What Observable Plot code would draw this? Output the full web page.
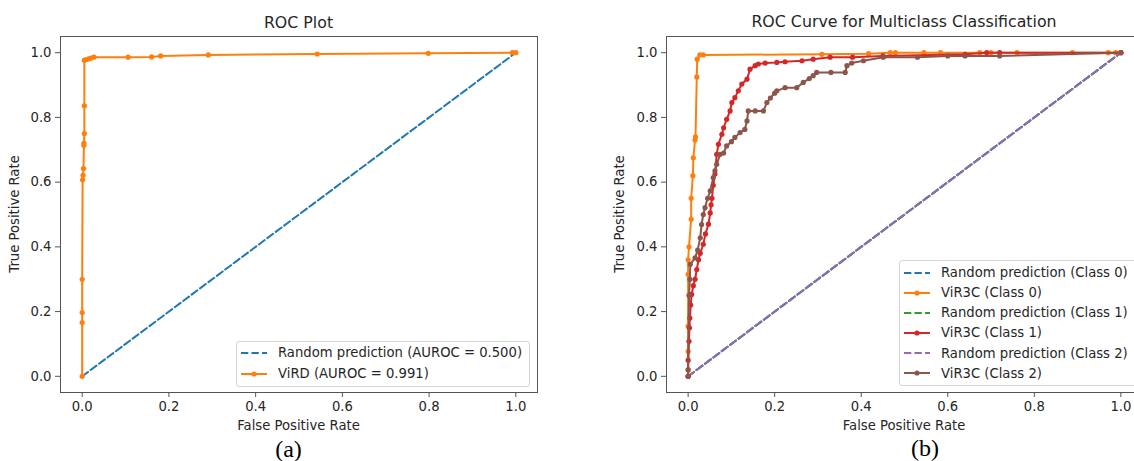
<!DOCTYPE html>
<html><head><meta charset="utf-8">
<script src="https://cdn.jsdelivr.net/npm/d3@7"></script>
<script src="https://cdn.jsdelivr.net/npm/@observablehq/plot@0.6"></script>
<style>
html,body{margin:0;padding:0;background:#fff;overflow:hidden}
#root{position:relative;width:1134px;height:461px;overflow:hidden;font-family:"DejaVu Sans",sans-serif;color:#262626;background:#fff}
.abs{position:absolute;white-space:nowrap;transform:translate(-50%,-50%);line-height:1}
.title{font-size:15.8px}
.lab{font-size:13.2px}
.rot{transform:translate(-50%,-50%) rotate(-90deg)}
.cap{font-family:"Liberation Serif",serif;font-size:24px;color:#000}
.legend{position:absolute;background:rgba(255,255,255,0.85);border:1px solid #d4d4d4;border-radius:3px;font-size:13.2px;box-sizing:border-box;white-space:nowrap}
.row{display:flex;align-items:center;height:20.1px;padding-left:4px}
.row svg{margin-right:11px;flex:none}
.plot{position:absolute;top:0}
</style></head><body><div id="root"></div>
<script>
// ---------- data ----------
const xTicks = [0, 0.2, 0.4, 0.6, 0.8, 1.0];
const yTicks = [0, 0.2, 0.4, 0.6, 0.8, 1.0];
const randomX = [0, 1];
const randomY = [0, 1];

// Panel (a): ViRD
const virdFPR = [0, 0, 0, 0, 0.001, 0.002, 0.003, 0.004, 0.004, 0.005, 0.005, 0.005, 0.01, 0.015, 0.02, 0.027, 0.106, 0.16, 0.181, 0.291, 0.542, 0.798, 0.992, 1.0];
const virdTPR = [0, 0.166, 0.197, 0.30, 0.607, 0.621, 0.642, 0.714, 0.72, 0.75, 0.836, 0.977, 0.979, 0.981, 0.983, 0.986, 0.986, 0.987, 0.99, 0.993, 0.996, 0.998, 1.0, 1.0];

// Panel (b): ViR3C classes
const c0FPR = [0, 0, 0, 0, 0, 0, 0.002, 0.007, 0.007, 0.011, 0.012, 0.016, 0.017, 0.02, 0.021, 0.027, 0.035, 0.309, 0.417, 0.467, 0.479, 0.545, 0.583, 0.674, 0.70, 0.76, 0.888, 0.971, 0.988, 1.0];
const c0TPR = [0, 0.02, 0.077, 0.155, 0.315, 0.36, 0.40, 0.485, 0.55, 0.62, 0.675, 0.73, 0.74, 0.925, 0.98, 0.993, 0.993, 0.995, 0.997, 1.0, 1.0, 1.0, 1.0, 1.0, 1.0, 1.0, 1.0, 1.0, 1.0, 1.0];

const c1FPR = [0, 0, 0.002, 0.003, 0.004, 0.006, 0.008, 0.012, 0.016, 0.02, 0.024, 0.028, 0.035, 0.04, 0.047, 0.051, 0.053, 0.055, 0.058, 0.062, 0.066, 0.07, 0.078, 0.082, 0.089, 0.097, 0.101, 0.108, 0.116, 0.124, 0.136, 0.143, 0.155, 0.162, 0.178, 0.205, 0.224, 0.263, 0.289, 0.328, 0.38, 0.45, 0.64, 0.69, 0.72, 1.0];
const c1TPR = [0, 0.05, 0.108, 0.15, 0.18, 0.22, 0.253, 0.28, 0.30, 0.33, 0.36, 0.38, 0.408, 0.44, 0.47, 0.505, 0.53, 0.55, 0.59, 0.625, 0.686, 0.717, 0.748, 0.768, 0.794, 0.82, 0.846, 0.861, 0.882, 0.903, 0.918, 0.949, 0.96, 0.965, 0.968, 0.97, 0.972, 0.975, 0.98, 0.986, 0.986, 0.99, 0.995, 1.0, 1.0, 1.0];

const c2FPR = [0, 0, 0.002, 0.004, 0.005, 0.016, 0.022, 0.028, 0.031, 0.035, 0.039, 0.045, 0.051, 0.058, 0.062, 0.066, 0.074, 0.082, 0.089, 0.10, 0.108, 0.12, 0.131, 0.136, 0.139, 0.155, 0.174, 0.182, 0.19, 0.20, 0.205, 0.224, 0.251, 0.266, 0.28, 0.289, 0.297, 0.33, 0.363, 0.367, 0.378, 0.405, 0.451, 0.53, 0.60, 0.64, 0.72, 1.0];
const c2TPR = [0, 0.02, 0.25, 0.30, 0.346, 0.366, 0.39, 0.428, 0.469, 0.50, 0.521, 0.55, 0.573, 0.614, 0.635, 0.655, 0.686, 0.69, 0.712, 0.725, 0.738, 0.753, 0.763, 0.789, 0.82, 0.82, 0.82, 0.846, 0.86, 0.875, 0.882, 0.892, 0.892, 0.908, 0.92, 0.929, 0.939, 0.939, 0.939, 0.96, 0.968, 0.975, 0.986, 0.986, 0.99, 0.99, 0.99, 1.0];

const legendA = ["Random prediction (AUROC = 0.500)", "ViRD (AUROC = 0.991)"];
const legendB = ["Random prediction (Class 0)", "ViR3C (Class 0)", "Random prediction (Class 1)", "ViR3C (Class 1)", "Random prediction (Class 2)", "ViR3C (Class 2)"];

// ---------- helpers ----------
const C = {blue: "#1f77b4", orange: "#ff7f0e", green: "#2ca02c", red: "#d62728", purple: "#9467bd", brown: "#8c564b"};
const DASH = "7.3,3.2";
const pts = (xs, ys) => xs.map((x, i) => ({x, y: ys[i]}));
const root = document.getElementById("root");

function dashed(color) {
  return Plot.line(pts(randomX, randomY), {x: "x", y: "y", stroke: color, strokeWidth: 2, strokeDasharray: DASH});
}
function curve(xs, ys, color) {
  return [
    Plot.line(pts(xs, ys), {x: "x", y: "y", stroke: color, strokeWidth: 2}),
    Plot.dot(pts(xs, ys), {x: "x", y: "y", r: 2.6, fill: color, stroke: "none"})
  ];
}
function panel(left, width, marginLeft, marginRight, marks) {
  const svg = Plot.plot({
    width, height: 461,
    marginLeft, marginRight, marginTop: 36, marginBottom: 69,
    x: {domain: [-0.05, 1.05]},
    y: {domain: [-0.05, 1.05]},
    style: {fontFamily: "DejaVu Sans", fontSize: "13.2px", color: "#262626", background: "transparent", overflow: "visible"},
    marks: [
      ...marks,
      Plot.frame({stroke: "#555", strokeWidth: 1}),
      Plot.axisX({ticks: xTicks, tickSize: 5, tickPadding: 4, tickFormat: d3.format(".1f"), label: null, stroke: "#555"}),
      Plot.axisY({ticks: yTicks, tickSize: 5, tickPadding: 4, tickFormat: d3.format(".1f"), label: null, stroke: "#555"})
    ]
  });
  svg.classList.add("plot");
  svg.style.left = left + "px";
  root.appendChild(svg);
}
function text(cls, str, x, y) {
  const d = document.createElement("div");
  d.className = "abs " + cls;
  d.textContent = str;
  d.style.left = x + "px";
  d.style.top = y + "px";
  root.appendChild(d);
}
function sample(color, dashedLine, marker) {
  const ns = "http://www.w3.org/2000/svg";
  const s = document.createElementNS(ns, "svg");
  s.setAttribute("width", 26); s.setAttribute("height", 10);
  const l = document.createElementNS(ns, "line");
  l.setAttribute("x1", 0); l.setAttribute("x2", 26); l.setAttribute("y1", 5); l.setAttribute("y2", 5);
  l.setAttribute("stroke", color); l.setAttribute("stroke-width", 2);
  if (dashedLine) l.setAttribute("stroke-dasharray", DASH);
  s.appendChild(l);
  if (marker) {
    const c = document.createElementNS(ns, "circle");
    c.setAttribute("cx", 13); c.setAttribute("cy", 5); c.setAttribute("r", 2.6); c.setAttribute("fill", color);
    s.appendChild(c);
  }
  return s;
}
function legend(left, top, width, padTop, rowH, entries) {
  const box = document.createElement("div");
  box.className = "legend";
  Object.assign(box.style, {left: left + "px", top: top + "px", width: width + "px", paddingTop: padTop + "px"});
  for (const [label, color, isDashed] of entries) {
    const r = document.createElement("div");
    r.className = "row";
    r.style.height = rowH + "px";
    r.appendChild(sample(color, isDashed, !isDashed));
    const t = document.createElement("span");
    t.textContent = label;
    r.appendChild(t);
    box.appendChild(r);
  }
  box.style.height = (padTop + rowH * entries.length + 4) + "px";
  root.appendChild(box);
}

// ---------- panel (a) ----------
panel(0, 560, 60, 23, [
  dashed(C.blue),
  ...curve(virdFPR, virdTPR, C.orange)
]);
text("title", "ROC Plot", 298.5, 22.7);
text("lab", "False Positive Rate", 298.5, 425.7);
text("lab rot", "True Positive Rate", 15, 214);
text("cap", "(a)", 288.5, 449);
legend(236, 341, 294, 0, 21, [
  [legendA[0], C.blue, true],
  [legendA[1], C.orange, false]
]);

// ---------- panel (b) ----------
panel(600, 552, 66, 10, [
  dashed(C.blue),
  ...curve(c0FPR, c0TPR, C.orange),
  dashed(C.green),
  ...curve(c1FPR, c1TPR, C.red),
  dashed(C.purple),
  ...curve(c2FPR, c2TPR, C.brown)
]);
text("title", "ROC Curve for Multiclass Classification", 904, 21.7);
text("lab", "False Positive Rate", 904, 425.7);
text("lab rot", "True Positive Rate", 620.4, 214);
text("cap", "(b)", 925, 448);
legend(899, 260, 250, 1.6, 20.1, [
  [legendB[0], C.blue, true],
  [legendB[1], C.orange, false],
  [legendB[2], C.green, true],
  [legendB[3], C.red, false],
  [legendB[4], C.purple, true],
  [legendB[5], C.brown, false]
]);
</script>
</body></html>
